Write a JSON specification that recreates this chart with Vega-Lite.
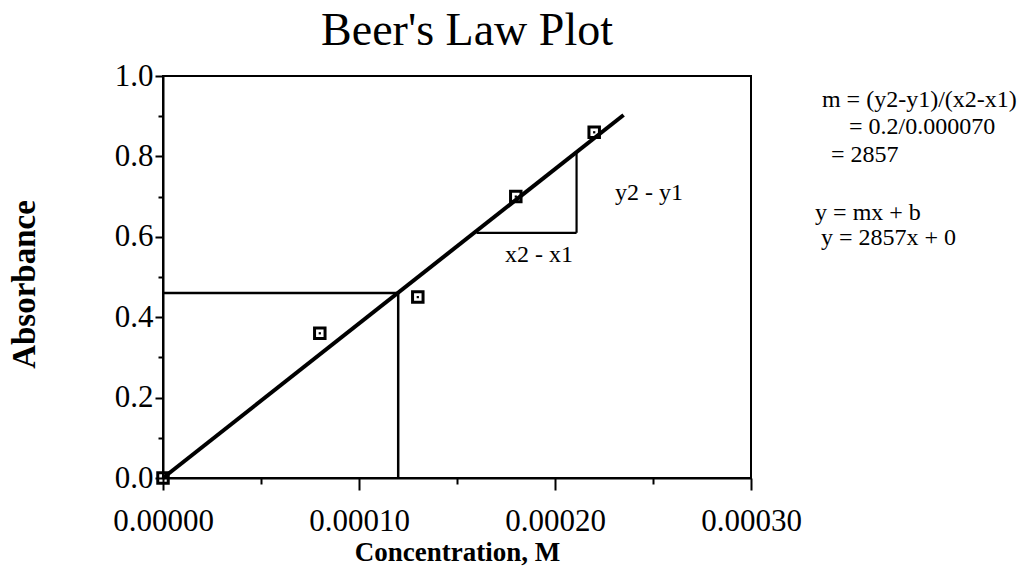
{
  "$schema": "https://vega.github.io/schema/vega-lite/v6.json",
  "width": 588,
  "height": 402,
  "autosize": "none",
  "padding": {"left": 163, "top": 76, "right": 271, "bottom": 91},
  "background": "white",
  "config": {
    "view": {"stroke": "black", "strokeWidth": 2},
    "font": "Liberation Serif"
  },
  "title": {
    "text": "Beer's Law Plot",
    "font": "Liberation Serif",
    "fontSize": 46,
    "fontWeight": "normal",
    "color": "black",
    "anchor": "middle",
    "dx": 10,
    "offset": 5
  },
  "datasets": {
    "points": [
      {"x": 0, "y": 0},
      {"x": 0.00008, "y": 0.36},
      {"x": 0.00013, "y": 0.45},
      {"x": 0.00018, "y": 0.70},
      {"x": 0.00022, "y": 0.86}
    ],
    "fit": [
      {"x": 0, "y": 0, "x2": 0.000235, "y2": 0.903}
    ],
    "guides": [
      {"x": 0, "x2": 0.00012, "y": 0.46, "y2": 0.46},
      {"x": 0.00012, "x2": 0.00012, "y": 0, "y2": 0.46}
    ],
    "triangle": [
      {"x": 0.00016, "x2": 0.000211, "y": 0.61, "y2": 0.61},
      {"x": 0.000211, "x2": 0.000211, "y": 0.61, "y2": 0.812}
    ],
    "notes": [
      {"x": 0.0002306, "y": 0.709, "label": "y2 - y1"},
      {"x": 0.0001745, "y": 0.555, "label": "x2 - x1"},
      {"x": 0.0003362, "y": 0.940, "label": "m = (y2-y1)/(x2-x1)"},
      {"x": 0.0003500, "y": 0.873, "label": "= 0.2/0.000070"},
      {"x": 0.0003408, "y": 0.803, "label": "= 2857"},
      {"x": 0.0003327, "y": 0.659, "label": "y = mx + b"},
      {"x": 0.0003357, "y": 0.597, "label": "y = 2857x + 0"}
    ]
  },
  "encoding": {
    "x": {
      "field": "x",
      "type": "quantitative",
      "scale": {"domain": [0, 0.0003], "nice": false, "zero": false},
      "axis": {
        "title": "Concentration, M",
        "values": [0, 0.00005, 0.0001, 0.00015, 0.0002, 0.00025, 0.0003],
        "labelExpr": "round(datum.value*20000)%2==0 ? format(datum.value,'.5f') : ''",
        "tickSize": {"condition": {"test": "round(datum.value*20000)%2==0", "value": 12}, "value": 6},
        "tickWidth": 2,
        "tickColor": "black",
        "domainColor": "black",
        "domainWidth": 2,
        "grid": false,
        "labelOverlap": false,
        "labelFlush": false,
        "labelFont": "Liberation Serif",
        "labelFontSize": 31,
        "labelColor": "black",
        "labelPadding": 16,
        "titleFont": "Liberation Serif",
        "titleFontSize": 27,
        "titleFontWeight": "bold",
        "titleColor": "black",
        "titlePadding": 3
      }
    },
    "y": {
      "field": "y",
      "type": "quantitative",
      "scale": {"domain": [0, 1], "nice": false, "zero": false},
      "axis": {
        "title": "Absorbance",
        "values": [0, 0.1, 0.2, 0.3, 0.4, 0.5, 0.6, 0.7, 0.8, 0.9, 1.0],
        "labelExpr": "round(datum.value*10)%2==0 ? format(datum.value,'.1f') : ''",
        "tickSize": {"condition": {"test": "round(datum.value*10)%2==0", "value": 8}, "value": 5},
        "tickWidth": 2,
        "tickColor": "black",
        "domainColor": "black",
        "domainWidth": 2,
        "grid": false,
        "labelOverlap": false,
        "labelFlush": false,
        "labelFont": "Liberation Serif",
        "labelFontSize": 31,
        "labelColor": "black",
        "labelPadding": 2,
        "titleFont": "Liberation Serif",
        "titleFontSize": 33,
        "titleFontWeight": "bold",
        "titleColor": "black",
        "titlePadding": 73,
        "titleY": 208
      }
    }
  },
  "layer": [
    {
      "data": {"name": "guides"},
      "mark": {"type": "rule", "color": "black", "strokeWidth": 2.5},
      "encoding": {"x2": {"field": "x2"}, "y2": {"field": "y2"}}
    },
    {
      "data": {"name": "triangle"},
      "mark": {"type": "rule", "color": "black", "strokeWidth": 2.2},
      "encoding": {"x2": {"field": "x2"}, "y2": {"field": "y2"}}
    },
    {
      "data": {"name": "fit"},
      "mark": {"type": "rule", "color": "black", "strokeWidth": 4},
      "encoding": {"x2": {"field": "x2"}, "y2": {"field": "y2"}}
    },
    {
      "data": {"name": "points"},
      "mark": {"type": "point", "shape": "square", "filled": false, "color": "black", "size": 110, "strokeWidth": 3, "opacity": 1}
    },
    {
      "data": {"name": "points"},
      "mark": {"type": "point", "shape": "square", "filled": true, "color": "black", "size": 5, "opacity": 1}
    },
    {
      "data": {"name": "notes"},
      "mark": {"type": "text", "align": "left", "baseline": "middle", "font": "Liberation Serif", "fontSize": 24, "color": "black"},
      "encoding": {"text": {"field": "label"}}
    }
  ]
}
